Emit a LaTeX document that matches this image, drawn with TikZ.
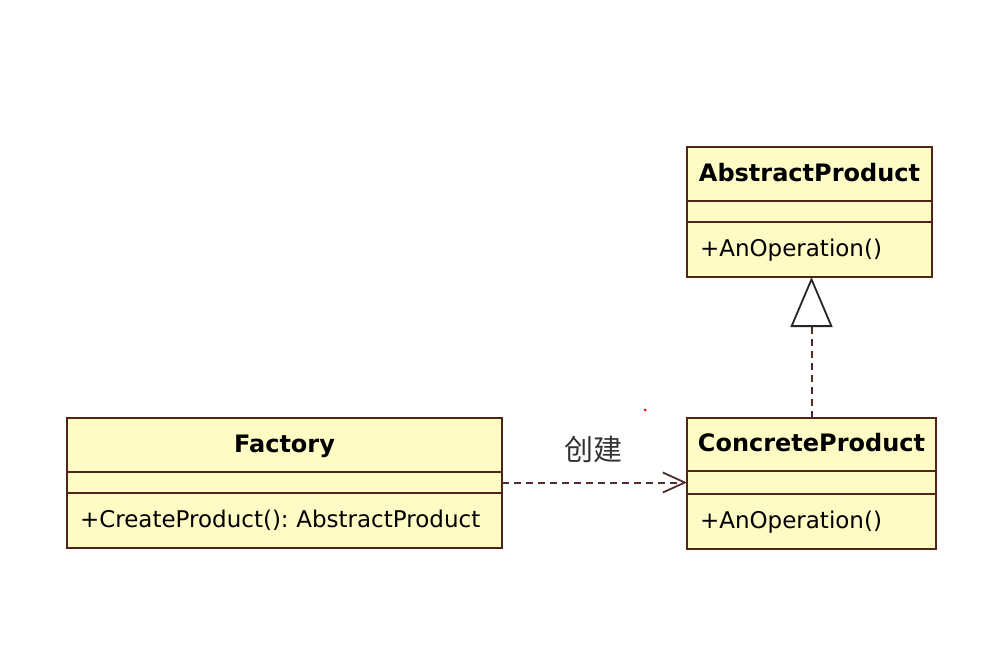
\documentclass[tikz,border=0pt]{standalone}
\usepackage{fontspec}
\setmainfont{DejaVu Sans}
\newfontfamily\cjk{Noto Sans CJK SC}
\usetikzlibrary{arrows.meta}
\definecolor{umlfill}{RGB}{255,251,196}
\definecolor{umlline}{RGB}{80,36,22}
\definecolor{deplink}{RGB}{80,44,44}

\begin{document}
\begin{tikzpicture}[x=1pt,y=-1pt,
  box/.style={draw=umlline,fill=umlfill,line width=2pt,inner sep=0pt,outer sep=0pt,anchor=north},
  classname/.style={box,font=\fontsize{24}{28}\selectfont\bfseries,text height=18pt,text depth=4pt},
  member/.style={box,font=\fontsize{23}{27}\selectfont\frenchspacing,align=left,inner xsep=13pt,text height=18pt,text depth=4pt},
  dep/.style={draw=deplink,line width=2pt,dash pattern=on 7pt off 5pt}]
\useasboundingbox (0,0) rectangle (994,656);

\node[classname,minimum width=245pt,minimum height=54pt](abs) at (809.5,147) {AbstractProduct};
\node[box,minimum width=245pt,minimum height=21pt](absattr) at (abs.south) {};
\node[member,text width=219pt,minimum height=55pt](absop) at (absattr.south) {+AnOperation()};

\node[classname,minimum width=249pt,minimum height=53pt](con) at (811.5,418) {ConcreteProduct};
\node[box,minimum width=249pt,minimum height=23pt](conattr) at (con.south) {};
\node[member,text width=223pt,minimum height=55pt](conop) at (conattr.south) {+AnOperation()};

\node[classname,minimum width=435pt,minimum height=54pt](fac) at (284.5,418) {Factory};
\node[box,minimum width=435pt,minimum height=21pt](facattr) at (fac.south) {};
\node[member,text width=409pt,minimum height=55pt](facop) at (facattr.south) {+CreateProduct(): AbstractProduct};

\draw[dep,-{Triangle[open,length=50pt,width=42pt,line width=1.8pt,color=black!85]}] (con.north) -- (con.north |- absop.south);

\draw[dep,-{Straight Barb[length=22pt,width=20pt,line width=1.8pt]}] (facattr.east) -- (conattr.west);
\node[font=\cjk\fontsize{29}{32}\selectfont,text=black!80](create) at (593,449) {创建};

\fill[red] (645,410) circle (1.5pt);

\end{tikzpicture}
\end{document}
